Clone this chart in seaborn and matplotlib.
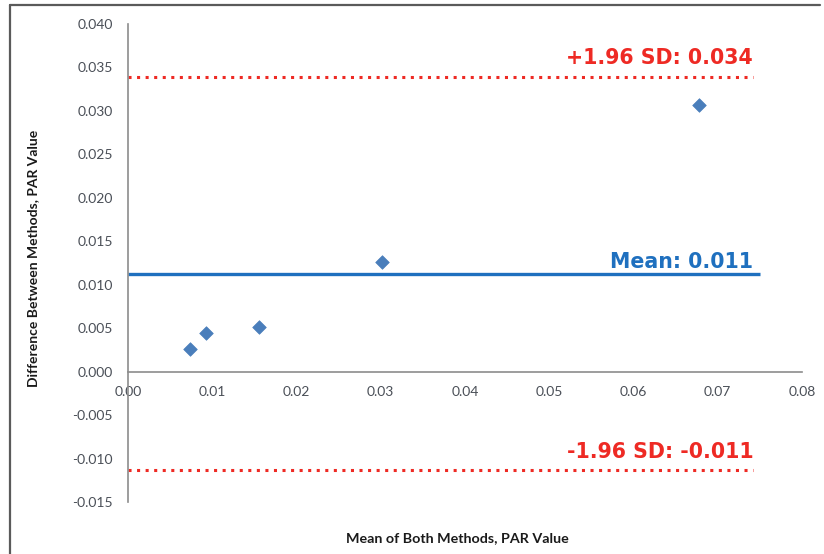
import matplotlib
matplotlib.use("Agg")
import matplotlib.pyplot as plt
from matplotlib.lines import Line2D
import seaborn as sns
import pandas as pd

# Data
mean_values = [0.0073, 0.0092, 0.0156, 0.0302, 0.0678]
diff_values = [0.0026, 0.0044, 0.0051, 0.0126, 0.0307]
mean_diff = 0.0112
upper_loa = 0.0339
lower_loa = -0.0113
upper_label = "+1.96 SD: 0.034"
mean_label = "Mean: 0.011"
lower_label = "-1.96 SD: -0.011"
x_ticks = [0.00, 0.01, 0.02, 0.03, 0.04, 0.05, 0.06, 0.07, 0.08]
y_ticks = [-0.015, -0.010, -0.005, 0.000, 0.005, 0.010, 0.015, 0.020, 0.025, 0.030, 0.035, 0.040]
x_label = "Mean of Both Methods, PAR Value"
y_label = "Difference Between Methods, PAR Value"

df = pd.DataFrame({"mean": mean_values, "diff": diff_values})

sns.set_theme(style="white")
plt.rcParams['font.family'] = ['Lato', 'DejaVu Sans']

fig = plt.figure(figsize=(8.24, 5.54), dpi=100)
ax = fig.add_axes([128/824, 52/554, 674/824, 478/554])

line_end = 0.0742
ax.hlines(upper_loa, 0, line_end, colors="#EE2A24", linestyles=(0, (1, 1.8)), linewidth=2.2, zorder=2)
ax.hlines(lower_loa, 0, line_end, colors="#EE2A24", linestyles=(0, (1, 1.8)), linewidth=2.2, zorder=2)
ax.hlines(mean_diff, 0, 0.0750, colors="#1F70BF", linewidth=2.4, zorder=2)

sns.scatterplot(data=df, x="mean", y="diff", marker="D", s=48, color="#4A7EBB",
                edgecolor="#4A7EBB", linewidth=0.5, ax=ax, zorder=3)

txt_kw = dict(family="DejaVu Sans", fontweight="bold", ha="right", va="bottom", fontsize=14.8)
ax.text(0.0742, upper_loa + 0.0010, upper_label, color="#EE2A24", **txt_kw)
ax.text(0.0742, mean_diff + 0.0003, mean_label, color="#1F70BF", **txt_kw)
ax.text(0.0742, lower_loa + 0.0009, lower_label, color="#EE2A24", **txt_kw)

ax.set_xlim(0, 0.08)
ax.set_ylim(-0.015, 0.040)
ax.set_xticks(x_ticks)
ax.set_yticks(y_ticks)
ax.set_xticklabels([f"{v:.2f}" for v in x_ticks])
ax.set_yticklabels([f"{v:.3f}" for v in y_ticks])

for s in ["top", "right"]:
    ax.spines[s].set_visible(False)
ax.spines["bottom"].set_position(("data", 0))
for s in ["left", "bottom"]:
    ax.spines[s].set_color("#8C8C8C")
    ax.spines[s].set_linewidth(1.2)

ax.tick_params(axis="both", which="major", direction="out", length=5, width=1.0,
               color="#8C8C8C", labelsize=10, labelcolor="#4a4f57")
ax.tick_params(axis="x", pad=5)
ax.tick_params(axis="y", pad=6)
ax.set_xlabel("")
ax.set_ylabel("")

fig.text(457/824, 1 - 538/554, x_label, ha="center", va="center",
         fontsize=10.3, fontweight="bold", color="#1a1a1a")
fig.text(33/824, 1 - 258/554, y_label, ha="center", va="center", rotation=90,
         fontsize=10, fontweight="bold", color="#1a1a1a")

# outer frame (top and left edges)
fig.add_artist(Line2D([10/824, 10/824], [0, 1 - 5/554], transform=fig.transFigure,
                      color="#5a5a5a", linewidth=1.6))
fig.add_artist(Line2D([10/824, 820/824], [1 - 5/554, 1 - 5/554], transform=fig.transFigure,
                      color="#5a5a5a", linewidth=1.6))

fig.savefig("out.png", dpi=100)
